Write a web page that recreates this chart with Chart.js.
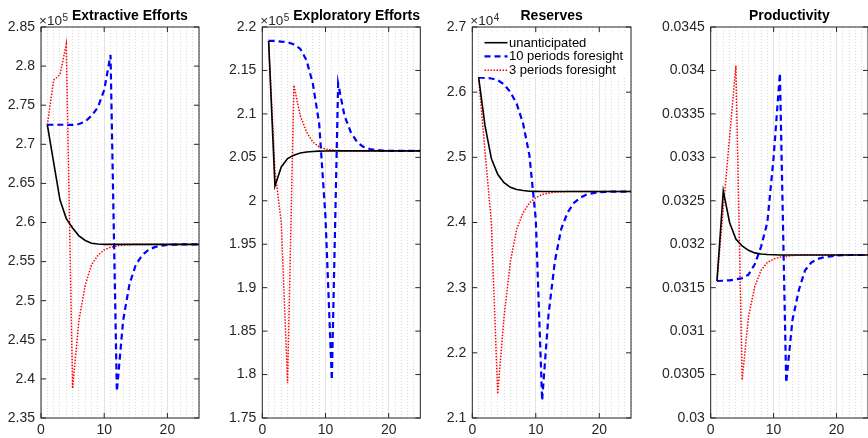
<!DOCTYPE html>
<html><head><meta charset="utf-8">
<script src="https://cdn.jsdelivr.net/npm/chart.js@4.4.0/dist/chart.umd.min.js"></script>
<style>
html,body{margin:0;padding:0;background:#fff;overflow:hidden;width:868px;height:438px;position:relative;}
canvas{position:absolute;top:0;}
</style></head><body>
<canvas id="c1"></canvas><canvas id="c2"></canvas><canvas id="c3"></canvas><canvas id="c4"></canvas>
<script>
// ---------- data ----------
const PERIODS = [1,2,3,4,5,6,7,8,9,10,11,12,13,14,15,16,17,18,19,20,21,22,23,24,25];
const X_GRID = [0,1,2,3,4,5,6,7,8,9,10,11,12,13,14,15,16,17,18,19,20,21,22,23,24,25];
const X_TICK_LABELS = [0,10,20];
const SERIES_NAMES = ['unanticipated','10 periods foresight','3 periods foresight'];
const TITLES = ['Extractive Efforts','Exploratory Efforts','Reserves','Productivity'];
const EXPONENTS = ['5','5','4',''];

// Extractive Efforts (x10^5)
const EXT_TICKS = [2.35,2.4,2.45,2.5,2.55,2.6,2.65,2.7,2.75,2.8,2.85];
const EXT_UNANT = [2.725,2.677,2.629,2.605,2.593,2.583,2.577,2.5735,2.5725,2.572,2.572,2.572,2.572,2.572,2.572,2.572,2.572,2.572,2.572,2.572,2.572,2.572,2.572,2.572,2.572];
const EXT_10 = [2.725,2.725,2.725,2.725,2.7248,2.726,2.729,2.7366,2.7473,2.7694,2.8142,2.384,2.475,2.521,2.546,2.558,2.565,2.5685,2.5703,2.5712,2.5716,2.5719,2.572,2.572,2.572];
const EXT_3 = [2.725,2.782,2.789,2.828,2.388,2.475,2.520,2.546,2.558,2.565,2.5683,2.5701,2.5711,2.5716,2.5719,2.572,2.572,2.572,2.572,2.572,2.572,2.572,2.572,2.572,2.572];

// Exploratory Efforts (x10^5)
const EXP_TICKS = [1.75,1.8,1.85,1.9,1.95,2,2.05,2.1,2.15,2.2];
const EXP_UNANT = [2.184,2.017,2.039,2.0485,2.0525,2.055,2.0561,2.0567,2.0571,2.0573,2.0574,2.0574,2.0574,2.0574,2.0574,2.0574,2.0574,2.0574,2.0574,2.0574,2.0574,2.0574,2.0574,2.0574,2.0574];
const EXP_10 = [2.184,2.184,2.1831,2.1825,2.180,2.175,2.1616,2.1348,2.0888,1.981,1.7937,2.135,2.098,2.079,2.0676,2.062,2.0596,2.0584,2.0578,2.0576,2.0575,2.0574,2.0574,2.0574,2.0574];
const EXP_3 = [2.184,2.035,1.975,1.790,2.133,2.098,2.0792,2.0676,2.062,2.0596,2.0584,2.0578,2.0576,2.0575,2.0574,2.0574,2.0574,2.0574,2.0574,2.0574,2.0574,2.0574,2.0574,2.0574,2.0574];

// Reserves (x10^4)
const RES_TICKS = [2.1,2.2,2.3,2.4,2.5,2.6,2.7];
const RES_UNANT = [2.6225,2.549,2.498,2.474,2.461,2.454,2.4505,2.449,2.448,2.4477,2.4475,2.4475,2.4475,2.4475,2.4475,2.4475,2.4475,2.4475,2.4475,2.4475,2.4475,2.4475,2.4475,2.4475,2.4475];
const RES_10 = [2.6225,2.622,2.621,2.6185,2.612,2.600,2.582,2.552,2.503,2.405,2.127,2.258,2.34,2.39,2.415,2.43,2.438,2.443,2.445,2.4465,2.447,2.4475,2.4475,2.4475,2.4475];
const RES_3 = [2.6225,2.51,2.40,2.137,2.2555,2.34,2.39,2.415,2.43,2.438,2.443,2.445,2.4465,2.447,2.4475,2.4475,2.4475,2.4475,2.4475,2.4475,2.4475,2.4475,2.4475,2.4475,2.4475];

// Productivity
const PROD_TICKS = [0.03,0.0305,0.031,0.0315,0.032,0.0325,0.033,0.0335,0.034,0.0345];
const PROD_UNANT = [0.031577,0.032616,0.03225,0.03206,0.03198,0.03193,0.0319,0.031888,0.031881,0.031878,0.031876,0.031876,0.031876,0.031876,0.031876,0.031876,0.031876,0.031876,0.031876,0.031876,0.031876,0.031876,0.031876,0.031876,0.031876];
const PROD_10 = [0.031577,0.03158,0.031585,0.031595,0.03161,0.03165,0.03177,0.03197,0.03225,0.0330,0.03397,0.030406,0.03113,0.03147,0.0317,0.03179,0.03183,0.03185,0.03186,0.03187,0.031874,0.031876,0.031876,0.031876,0.031876];
const PROD_3 = [0.031577,0.03241,0.03323,0.034055,0.030437,0.031166,0.03151,0.0317,0.03179,0.03183,0.03185,0.03186,0.03187,0.031874,0.031876,0.031876,0.031876,0.031876,0.031876,0.031876,0.031876,0.031876,0.031876,0.031876,0.031876];

// ---------- styling / layout ----------
const FONT = "'Liberation Sans', Helvetica, Arial, sans-serif";
const AX = '#262626';
const LINE_STYLES = [
  {color:'#000000', width:1.6, dash:[]},
  {color:'#0000ff', width:2.2, dash:[6,4]},
  {color:'#ff0000', width:1.5, dash:[1.5,1.5]}
];
const PANELS = [
  {id:'c1', ticks:EXT_TICKS, series:[EXT_UNANT,EXT_10,EXT_3], cl:0,   cw:210, pl:41,    pr:199,   legend:false},
  {id:'c2', ticks:EXP_TICKS, series:[EXP_UNANT,EXP_10,EXP_3], cl:212, cw:215, pl:262.3, pr:420.3, legend:false},
  {id:'c3', ticks:RES_TICKS, series:[RES_UNANT,RES_10,RES_3], cl:430, cw:205, pl:472.3, pr:631.3, legend:true},
  {id:'c4', ticks:PROD_TICKS, series:[PROD_UNANT,PROD_10,PROD_3], cl:650, cw:222, pl:710.7, pr:869, legend:false}
];
const TOP = 27, BOTTOM = 418, H = 438;

function fmt(v){ return String(parseFloat(v.toPrecision(6))); }

PANELS.forEach((p, pi) => {
  const cv = document.getElementById(p.id);
  cv.width = p.cw; cv.height = H;
  cv.style.left = p.cl + 'px'; cv.style.width = p.cw + 'px'; cv.style.height = H + 'px';

  const matlab = {
    id: 'matlab' + pi,
    afterDraw(chart) {
      const ctx = chart.ctx, ca = chart.chartArea;
      const ys = chart.scales.y, xs = chart.scales.x;
      ctx.save();
      // box
      ctx.strokeStyle = AX; ctx.lineWidth = 1; ctx.setLineDash([]);
      ctx.strokeRect(ca.left, ca.top, ca.right - ca.left, ca.bottom - ca.top);
      // inward ticks
      ctx.beginPath();
      p.ticks.forEach(v => {
        const y = ys.getPixelForValue(v);
        ctx.moveTo(ca.left, y); ctx.lineTo(ca.left + 5, y);
        ctx.moveTo(ca.right, y); ctx.lineTo(ca.right - 5, y);
      });
      X_TICK_LABELS.forEach(v => {
        const x = xs.getPixelForValue(v);
        ctx.moveTo(x, ca.bottom); ctx.lineTo(x, ca.bottom - 5);
        ctx.moveTo(x, ca.top); ctx.lineTo(x, ca.top + 5);
      });
      ctx.stroke();
      // exponent label
      let expRight = -1e9;
      const exp = EXPONENTS[pi];
      if (exp) {
        ctx.fillStyle = AX; ctx.textBaseline = 'alphabetic'; ctx.textAlign = 'left';
        ctx.font = '13.5px ' + FONT;
        const base = '\u00d710';
        const x0 = ca.left - 2;
        ctx.fillText(base, x0, 25);
        const bw = ctx.measureText(base).width;
        ctx.font = '10px ' + FONT;
        ctx.fillText(exp, x0 + bw + 0.5, 20.5);
        expRight = x0 + bw + 0.5 + ctx.measureText(exp).width;
      }
      // title
      ctx.font = 'bold 14px ' + FONT;
      ctx.fillStyle = '#000'; ctx.textAlign = 'center'; ctx.textBaseline = 'alphabetic';
      const tw = ctx.measureText(TITLES[pi]).width;
      const cx = Math.max((ca.left + ca.right) / 2, expRight + 4 + tw / 2);
      ctx.fillText(TITLES[pi], cx, 20);
      // legend
      if (p.legend) {
        const lx = 479 - p.cl, ly = 33;
        ctx.fillStyle = '#fff';
        ctx.fillRect(lx, ly, 149, 44);
        const rows = [42.7, 56.3, 70.3];
        chart.data.datasets.forEach((ds, k) => {
          const y = rows[k];
          ctx.beginPath();
          ctx.strokeStyle = ds.borderColor; ctx.lineWidth = ds.borderWidth;
          ctx.setLineDash(ds.borderDash);
          ctx.moveTo(lx + 5.5, y); ctx.lineTo(lx + 28.5, y);
          ctx.stroke();
          ctx.setLineDash([]);
          ctx.fillStyle = '#000'; ctx.textAlign = 'left'; ctx.textBaseline = 'middle';
          ctx.font = '13px ' + FONT;
          ctx.fillText(ds.label, lx + 30, y + 0.5);
        });
      }
      ctx.restore();
    }
  };

  new Chart(cv, {
    type: 'line',
    data: {
      datasets: p.series.map((s, k) => ({
        label: SERIES_NAMES[k],
        data: PERIODS.map((x, i) => ({x: x, y: s[i]})),
        borderColor: LINE_STYLES[k].color,
        borderWidth: LINE_STYLES[k].width,
        borderDash: LINE_STYLES[k].dash,
        pointRadius: 0, tension: 0, fill: false
      }))
    },
    options: {
      responsive: false, animation: false, devicePixelRatio: 1,
      layout: {padding: {top: TOP, left: 0, bottom: 0, right: p.cw - (p.pr - p.cl)}},
      plugins: {legend: {display: false}, tooltip: {enabled: false}, title: {display: false}},
      scales: {
        x: {
          type: 'linear', min: 0, max: 25,
          afterFit: s => { s.height = H - BOTTOM; },
          afterBuildTicks: s => { s.ticks = X_GRID.map(v => ({value: v})); },
          ticks: {autoSkip: false, maxRotation: 0, padding: 4, color: AX,
            font: {family: FONT, size: 14},
            callback: v => X_TICK_LABELS.includes(v) ? String(v) : ''},
          grid: {drawTicks: false, lineWidth: 1,
            color: c => (c.tick && c.tick.value % 10 === 0) ? 'rgba(38,38,38,0.13)' : 'rgba(38,38,38,0.18)'},
          border: {display: false,
            dash: c => (c.tick && c.tick.value % 10 === 0) ? [] : [1, 2]}
        },
        y: {
          min: p.ticks[0], max: p.ticks[p.ticks.length - 1],
          afterFit: s => { s.width = p.pl - p.cl; },
          afterBuildTicks: s => { s.ticks = p.ticks.map(v => ({value: v})); },
          ticks: {autoSkip: false, padding: 6, color: AX, font: {family: FONT, size: 14},
            callback: v => fmt(v)},
          grid: {display: false, drawTicks: false},
          border: {display: false}
        }
      }
    },
    plugins: [matlab]
  });
});
</script>
</body></html>
